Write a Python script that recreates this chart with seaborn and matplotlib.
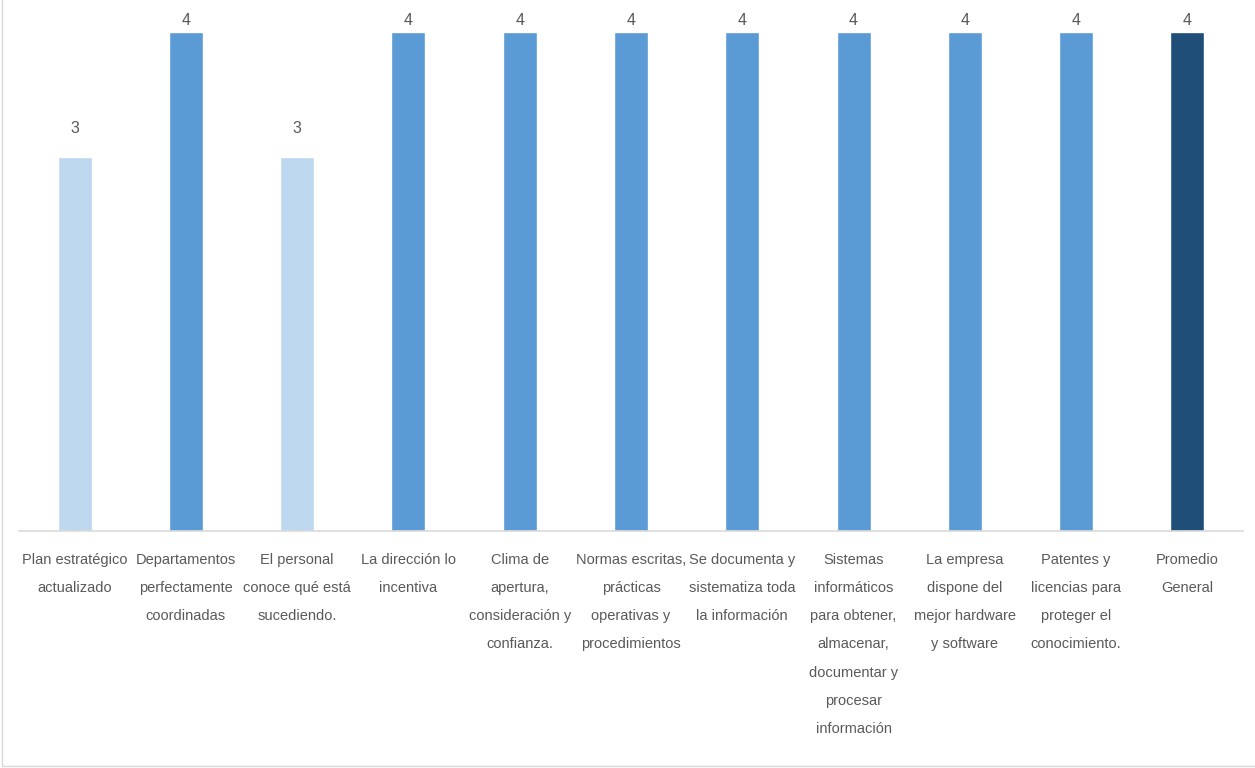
import matplotlib
matplotlib.use("Agg")
import matplotlib.pyplot as plt
import matplotlib.font_manager as fm
from matplotlib.patches import Rectangle
import seaborn as sns
import pandas as pd

categories = [
    "Plan estratégico\nactualizado",
    "Departamentos\nperfectamente\ncoordinadas",
    "El personal\nconoce qué está\nsucediendo.",
    "La dirección lo\nincentiva",
    "Clima de\napertura,\nconsideración y\nconfianza.",
    "Normas escritas,\nprácticas\noperativas y\nprocedimientos",
    "Se documenta y\nsistematiza toda\nla información",
    "Sistemas\ninformáticos\npara obtener,\nalmacenar,\ndocumentar y\nprocesar\ninformación",
    "La empresa\ndispone del\nmejor hardware\ny software",
    "Patentes y\nlicencias para\nproteger el\nconocimiento.",
    "Promedio\nGeneral",
]
values = [3, 4, 3, 4, 4, 4, 4, 4, 4, 4, 4]
bar_colors = ["#BDD7EE", "#5B9BD5", "#BDD7EE", "#5B9BD5", "#5B9BD5", "#5B9BD5",
              "#5B9BD5", "#5B9BD5", "#5B9BD5", "#5B9BD5", "#1F4E79"]

sns.set_theme(style="white")
installed = {f.name for f in fm.fontManager.ttflist}
narrow = "Liberation Sans Narrow" in installed
family = ["Liberation Sans Narrow", "DejaVu Sans"] if narrow else ["Liberation Sans", "DejaVu Sans"]
plt.rcParams["font.family"] = family
label_size = 12 if narrow else 10.5

df = pd.DataFrame({"categoria": categories, "valor": values})

fig = plt.figure(figsize=(12.55, 7.68), dpi=100)
ax = fig.add_axes([19 / 1255, 1 - 531 / 768, (1243 - 19) / 1255, (531 - 32) / 768])

sns.barplot(data=df, x="categoria", y="valor", hue="categoria", palette=bar_colors,
            legend=False, width=0.305, saturation=1, ax=ax)

ymax = max(values)
ax.set_ylim(0, ymax)
ax.set_xlim(-0.5, len(categories) - 0.5)
ax.set_xlabel("")
ax.set_ylabel("")
ax.set_yticks([])
for side in ["top", "left", "right"]:
    ax.spines[side].set_visible(False)
ax.spines["bottom"].set_color("#D9D9D9")
ax.spines["bottom"].set_linewidth(1.2)
ax.tick_params(axis="x", length=0, pad=16, labelsize=label_size, colors="#595959")
for lbl in ax.get_xticklabels():
    lbl.set_linespacing(2.28)

# value labels: those on the tallest bars are kept close to the top edge
for container in ax.containers:
    h = container.patches[0].get_height()
    pad = 3 if h >= ymax else 15
    ax.bar_label(container, fmt="%d", padding=pad, fontsize=11.5, color="#595959", clip_on=False)

fig.patches.append(Rectangle((2 / 1255, 2 / 768), 1.0, 1.0, transform=fig.transFigure,
                             fill=False, edgecolor="#D9D9D9", linewidth=1, zorder=0))

fig.savefig("out.png", dpi=100, facecolor="white")
